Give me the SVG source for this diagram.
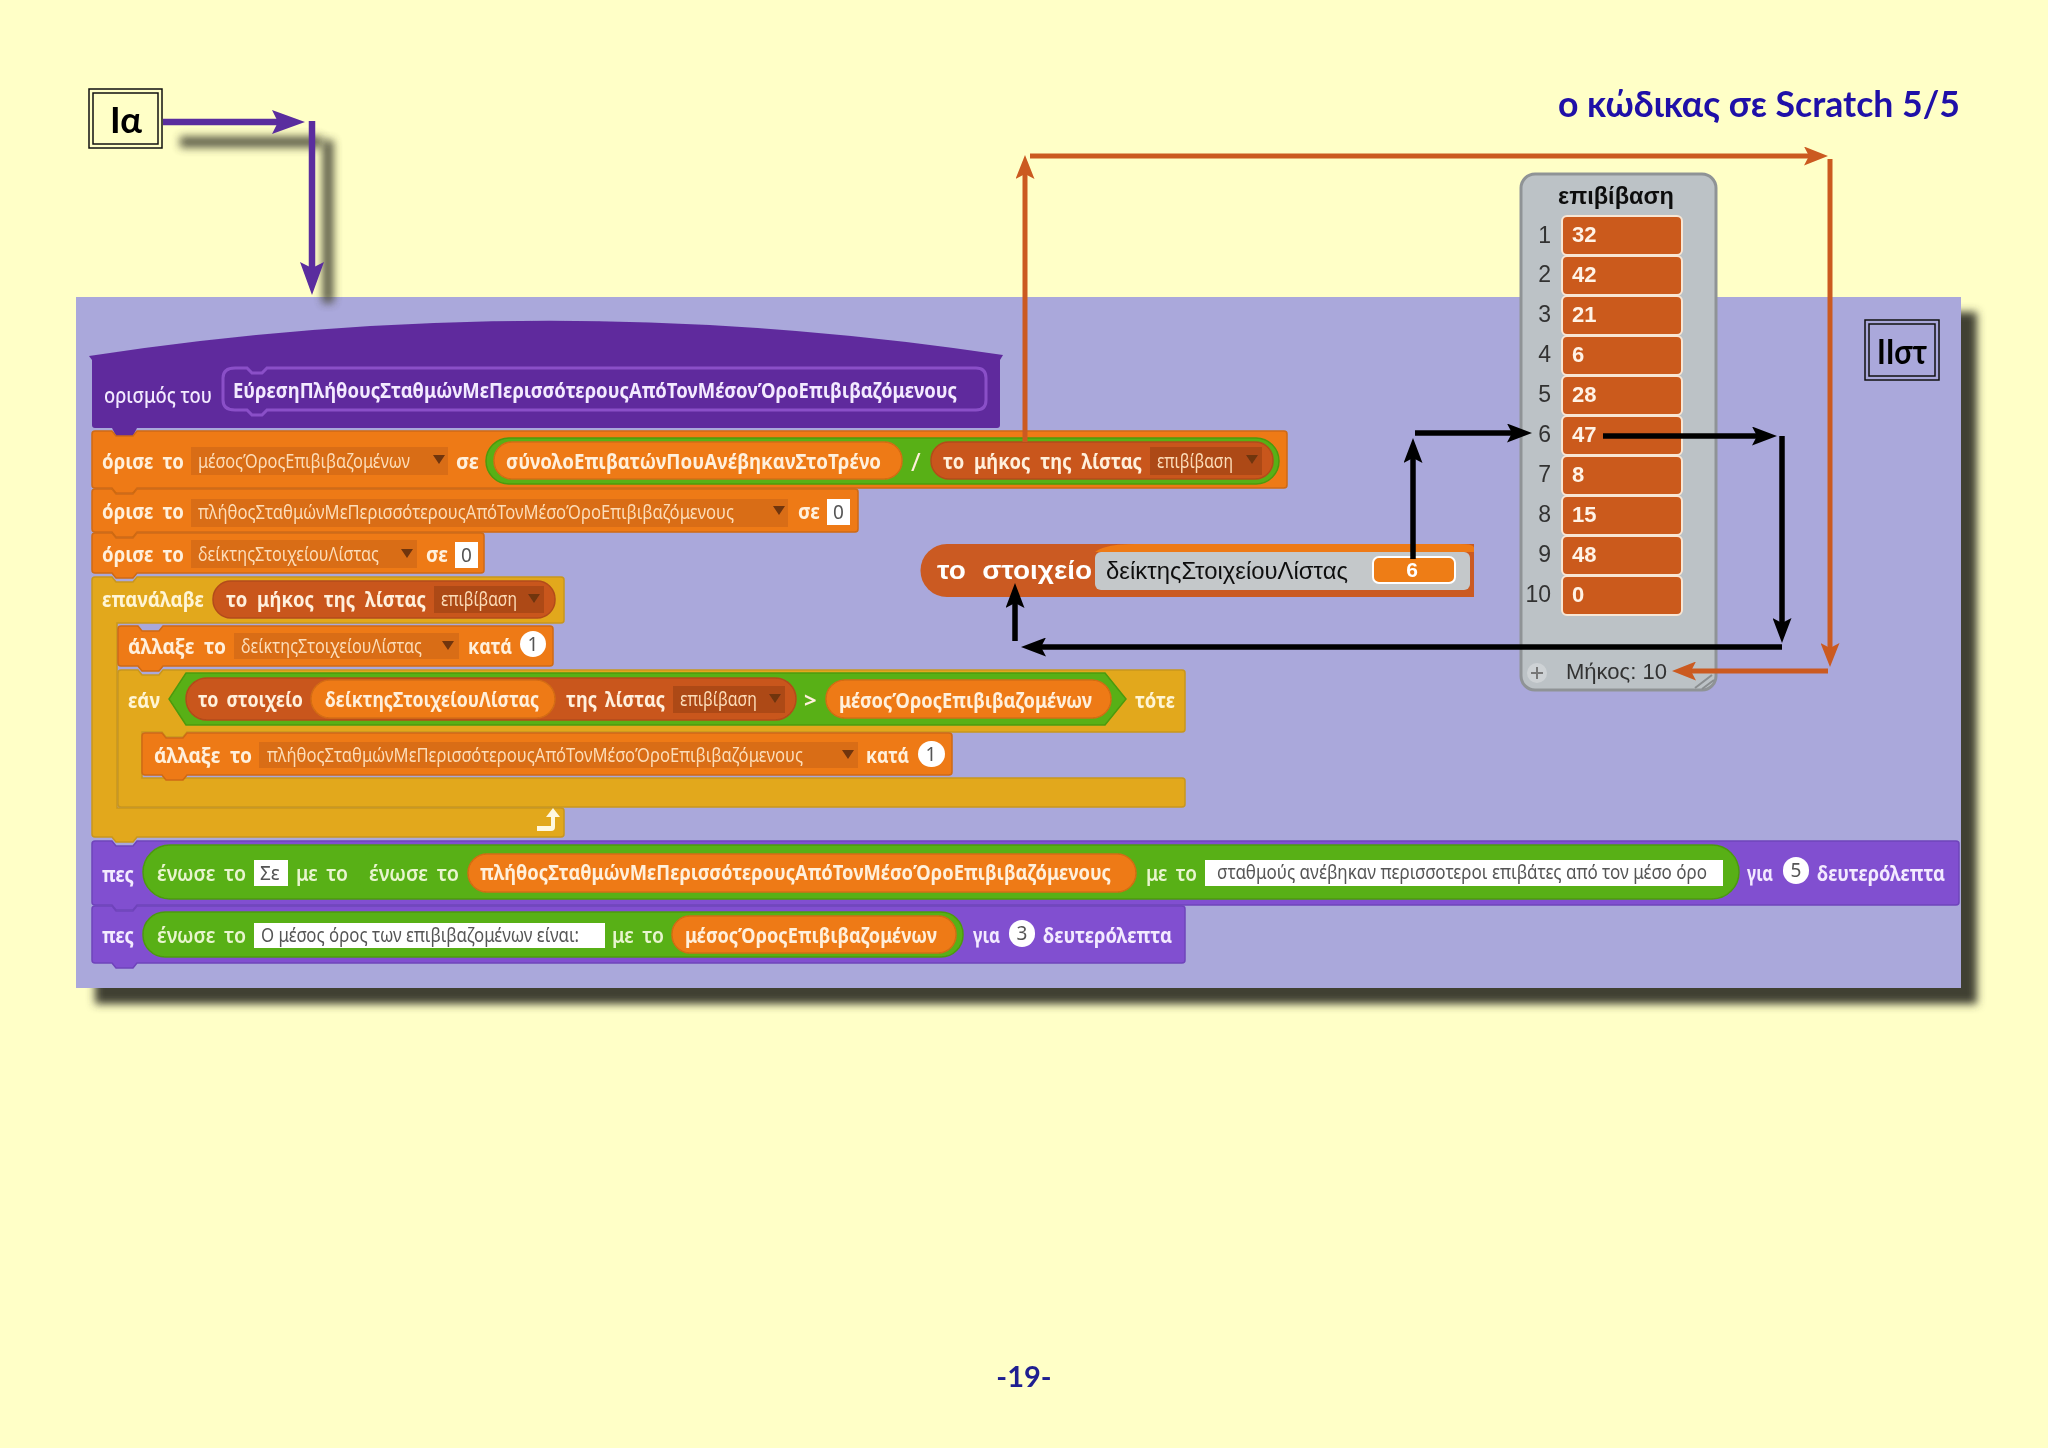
<svg xmlns="http://www.w3.org/2000/svg" width="2048" height="1448" viewBox="0 0 2048 1448">
<style>
text{font-family:"Noto Sans","Liberation Sans",sans-serif}
.t{font-size:22px;font-weight:700;fill:#fff0dc}
.g{font-size:22px;font-weight:600;fill:#e8f5cf}
.p{font-size:22px;font-weight:700;fill:#f3eaff}
.y{font-size:22px;font-weight:700;fill:#fff5d5}
.d{font-size:20px;font-weight:400;fill:#fcdcb8}
.w{font-size:19px;font-weight:400;fill:#555;}
.or{fill:#ee7a16;stroke:#cf6a12;stroke-width:1.5}
.ye{fill:#e2a81c;stroke:#c9961c;stroke-width:1.5}
.pu{fill:#8150d0;stroke:#6f43bb;stroke-width:1.5}
.gr{fill:#59b014;stroke:#4c9a10;stroke-width:1.5}
.dk{fill:#c9561f;stroke:#b34c1a;stroke-width:1.5}
.op{fill:#ee7a16;stroke:#d46c12;stroke-width:1.5}
.dd{fill:#d96d14}
.d2{fill:#ad4a18}
.wb{fill:#fff}
.idx{font-family:"Liberation Sans",sans-serif;font-size:23px;fill:#333;text-anchor:end}
.cell{fill:#cb5a1f;stroke:#f8e6d4;stroke-width:2}
.val{font-family:"Liberation Sans",sans-serif;font-size:22px;font-weight:700;fill:#fff3e6}
.box{fill:none;stroke:#111;stroke-width:1.5}
.lbl{font-family:Lato,"Noto Sans",sans-serif;font-size:36px;font-weight:700;fill:#000;text-anchor:middle}
.cb{stroke:#000;stroke-width:5.5;fill:none}
.co{stroke:#cb5a20;stroke-width:5;fill:none}
.cv{stroke:#5a2d9e;stroke-width:6.5;fill:none}
.sh{stroke:#4a4a38;stroke-width:11;fill:none;opacity:.9}
</style>
<defs>
<filter id="b6" filterUnits="userSpaceOnUse" x="40" y="260" width="2000" height="800"><feGaussianBlur stdDeviation="4"/></filter>
<filter id="b3" filterUnits="userSpaceOnUse" x="150" y="100" width="220" height="240"><feGaussianBlur stdDeviation="4"/></filter>
<filter id="soft" filterUnits="userSpaceOnUse" x="60" y="160" width="1920" height="840"><feGaussianBlur stdDeviation="0.6"/></filter>
<marker id="mp" markerUnits="userSpaceOnUse" viewBox="0 0 33 24" markerWidth="33" markerHeight="24" refX="22" refY="12" orient="auto"><path d="M0,0L33,12L0,24L6,12z" fill="#5a2d9e"/></marker>
<marker id="mo" markerUnits="userSpaceOnUse" viewBox="0 0 24 19" markerWidth="24" markerHeight="19" refX="16" refY="9.5" orient="auto"><path d="M0,0L24,9.5L0,19L5,9.5z" fill="#cb5a20"/></marker>
<marker id="mb" markerUnits="userSpaceOnUse" viewBox="0 0 25 19" markerWidth="25" markerHeight="19" refX="17" refY="9.5" orient="auto"><path d="M0,0L25,9.5L0,19L5,9.5z" fill="#000"/></marker>
<path id="tri" d="M-6,-4h12l-6,9z" fill="#6f3510"/>
</defs>
<rect width="2048" height="1448" fill="#ffffc7"/>
<rect x="95" y="312" width="1882" height="692" fill="#403f30" filter="url(#b6)"/>
<rect x="76" y="297" width="1885" height="691" fill="#aaa8db"/>

<g id="blocks" filter="url(#soft)">
<g id="node-hat">
<path d="M89,356Q546,286 1003,355L1000,360V425q0,3 -3,3H137l-4,8h-17l-4,-8H95q-3,0 -3,-3V360z" fill="#5f2a9d"/>
<path d="M235,368H247l5,5h10l5,-5H976q10,0 10,10V400q0,10 -10,10H267l-5,5h-10l-5,-5H235q-12,0 -12,-10V378q0,-10 12,-10z" fill="#5f2a9d" stroke="#8a50c8" stroke-width="3"/>
<text class="p" x="104" y="403" textLength="108" lengthAdjust="spacingAndGlyphs" style="font-weight:500">ορισμός του</text>
<text class="p" x="233" y="398" textLength="724" lengthAdjust="spacingAndGlyphs">ΕύρεσηΠλήθουςΣταθμώνΜεΠερισσότερουςΑπόΤονΜέσονΌροΕπιβιβαζόμενους</text>
</g>

<g id="node-set-mean">
<path class="or" d="M95,431H112l4,5h17l4,-5H1284q3,0 3,3V485q0,3 -3,3H137l-4,5h-17l-4,-5H95q-3,0 -3,-3V434q0,-3 3,-3z"/>
<text class="t" x="102" y="469" textLength="82" lengthAdjust="spacingAndGlyphs" style="word-spacing:5px">όρισε το</text>
<rect class="dd" x="191" y="447" width="257" height="28"/>
<text class="d" x="198" y="468" textLength="212" lengthAdjust="spacingAndGlyphs">μέσοςΌροςΕπιβιβαζομένων</text>
<use href="#tri" x="439" y="459"/>
<text class="t" x="456" y="469" textLength="23" lengthAdjust="spacingAndGlyphs">σε</text>
<rect class="gr" x="486" y="438" width="793" height="46" rx="23"/>
<rect class="op" x="494" y="442" width="408" height="37" rx="18"/>
<text class="t" x="506" y="469" textLength="375" lengthAdjust="spacingAndGlyphs">σύνολοΕπιβατώνΠουΑνέβηκανΣτοΤρένο</text>
<text class="t" x="911" y="471" style="font-size:26px;font-weight:400">/</text>
<rect class="dk" x="931" y="442" width="342" height="37" rx="18"/>
<text class="t" x="943" y="469" textLength="199" lengthAdjust="spacingAndGlyphs" style="word-spacing:6px">το μήκος της λίστας</text>
<rect class="d2" x="1150" y="447" width="112" height="28"/>
<text class="d" x="1157" y="468" textLength="76" lengthAdjust="spacingAndGlyphs">επιβίβαση</text>
<use href="#tri" x="1252" y="459"/>
</g>

<g id="node-set-count">
<path class="or" d="M95,489H112l4,5h17l4,-5H855q3,0 3,3V529q0,3 -3,3H137l-4,5h-17l-4,-5H95q-3,0 -3,-3V492q0,-3 3,-3z"/>
<text class="t" x="102" y="519" textLength="82" lengthAdjust="spacingAndGlyphs" style="word-spacing:5px">όρισε το</text>
<rect class="dd" x="191" y="499" width="597" height="28"/>
<text class="d" x="198" y="519" textLength="536" lengthAdjust="spacingAndGlyphs">πλήθοςΣταθμώνΜεΠερισσότερουςΑπόΤονΜέσοΌροΕπιβιβαζόμενους</text>
<use href="#tri" x="779" y="510"/>
<text class="t" x="798" y="519" textLength="22" lengthAdjust="spacingAndGlyphs">σε</text>
<rect class="wb" x="827" y="499" width="23" height="26"/>
<text class="w" x="833" y="519">0</text>
</g>

<g id="node-set-index">
<path class="or" d="M95,533H112l4,5h17l4,-5H481q3,0 3,3V570q0,3 -3,3H137l-4,5h-17l-4,-5H95q-3,0 -3,-3V536q0,-3 3,-3z"/>
<text class="t" x="102" y="562" textLength="82" lengthAdjust="spacingAndGlyphs" style="word-spacing:5px">όρισε το</text>
<rect class="dd" x="191" y="540" width="226" height="28"/>
<text class="d" x="198" y="561" textLength="181" lengthAdjust="spacingAndGlyphs">δείκτηςΣτοιχείουΛίστας</text>
<use href="#tri" x="407" y="553"/>
<text class="t" x="426" y="562" textLength="22" lengthAdjust="spacingAndGlyphs">σε</text>
<rect class="wb" x="455" y="542" width="23" height="26"/>
<text class="w" x="461" y="562">0</text>
</g>

<g id="node-repeat">
<path class="ye" d="M95,577H112l4,5h17l4,-5H561q3,0 3,3V620q0,3 -3,3H117V808H561q3,0 3,3V834q0,3 -3,3H137l-4,5h-17l-4,-5H95q-3,0 -3,-3V580q0,-3 3,-3z"/>
<text class="y" x="102" y="607" textLength="102" lengthAdjust="spacingAndGlyphs">επανάλαβε</text>
<rect class="dk" x="213" y="581" width="342" height="37" rx="18"/>
<text class="t" x="226" y="607" textLength="200" lengthAdjust="spacingAndGlyphs" style="word-spacing:6px">το μήκος της λίστας</text>
<rect class="d2" x="434" y="586" width="110" height="27"/>
<text class="d" x="441" y="606" textLength="76" lengthAdjust="spacingAndGlyphs">επιβίβαση</text>
<use href="#tri" x="534" y="598"/>
<path d="M537,831h14q4,0 4,-4v-10h5l-7,-9l-7,9h5v9h-14z" fill="#fff8e0"/>
</g>

<g id="node-change-index">
<path class="or" d="M121,626H138l4,5h17l4,-5H550q3,0 3,3V663q0,3 -3,3H163l-4,5h-17l-4,-5H121q-3,0 -3,-3V629q0,-3 3,-3z"/>
<text class="t" x="128" y="654" textLength="98" lengthAdjust="spacingAndGlyphs" style="word-spacing:5px">άλλαξε το</text>
<rect class="dd" x="234" y="633" width="225" height="26"/>
<text class="d" x="241" y="653" textLength="181" lengthAdjust="spacingAndGlyphs">δείκτηςΣτοιχείουΛίστας</text>
<use href="#tri" x="448" y="645"/>
<text class="t" x="468" y="654" textLength="44" lengthAdjust="spacingAndGlyphs">κατά</text>
<rect class="wb" x="520" y="631" width="26" height="26" rx="13"/>
<text class="w" x="533" y="651" text-anchor="middle">1</text>
</g>

<g id="node-if">
<path class="ye" d="M121,670H138l4,5h17l4,-5H1182q3,0 3,3V729q0,3 -3,3H187l-4,5h-17l-4,-5H142V778H1182q3,0 3,3V804q0,3 -3,3H121q-3,0 -3,-3V673q0,-3 3,-3z"/>
<text class="y" x="128" y="708" textLength="32" lengthAdjust="spacingAndGlyphs">εάν</text>
<path class="gr" d="M186,673H1105L1126,699L1105,725H186L169,699z"/>
<rect class="dk" x="186" y="678" width="610" height="42" rx="21"/>
<text class="t" x="198" y="707" textLength="105" lengthAdjust="spacingAndGlyphs" style="word-spacing:4px">το στοιχείο</text>
<rect class="op" x="311" y="680" width="244" height="38" rx="19"/>
<text class="t" x="325" y="707" textLength="214" lengthAdjust="spacingAndGlyphs">δείκτηςΣτοιχείουΛίστας</text>
<text class="t" x="566" y="707" textLength="99" lengthAdjust="spacingAndGlyphs" style="word-spacing:4px">της λίστας</text>
<rect class="d2" x="673" y="686" width="112" height="27"/>
<text class="d" x="680" y="706" textLength="77" lengthAdjust="spacingAndGlyphs">επιβίβαση</text>
<use href="#tri" x="775" y="698"/>
<text class="t" x="804" y="708">&gt;</text>
<rect class="op" x="826" y="680" width="285" height="38" rx="19"/>
<text class="t" x="839" y="708" textLength="253" lengthAdjust="spacingAndGlyphs">μέσοςΌροςΕπιβιβαζομένων</text>
<text class="y" x="1135" y="708" textLength="40" lengthAdjust="spacingAndGlyphs">τότε</text>
</g>

<g id="node-change-count">
<path class="or" d="M145,733H162l4,5h17l4,-5H949q3,0 3,3V772q0,3 -3,3H187l-4,5h-17l-4,-5H145q-3,0 -3,-3V736q0,-3 3,-3z"/>
<text class="t" x="154" y="763" textLength="98" lengthAdjust="spacingAndGlyphs" style="word-spacing:5px">άλλαξε το</text>
<rect class="dd" x="259" y="742" width="599" height="26"/>
<text class="d" x="267" y="762" textLength="536" lengthAdjust="spacingAndGlyphs">πλήθοςΣταθμώνΜεΠερισσότερουςΑπόΤονΜέσοΌροΕπιβιβαζόμενους</text>
<use href="#tri" x="848" y="754"/>
<text class="t" x="866" y="763" textLength="43" lengthAdjust="spacingAndGlyphs">κατά</text>
<rect class="wb" x="918" y="741" width="27" height="26" rx="13"/>
<text class="w" x="931" y="761" text-anchor="middle">1</text>
</g>

<g id="node-say-1">
<path class="pu" d="M95,841H112l4,5h17l4,-5H1956q3,0 3,3V902q0,3 -3,3H137l-4,5h-17l-4,-5H95q-3,0 -3,-3V844q0,-3 3,-3z"/>
<text class="p" x="102" y="882" textLength="32" lengthAdjust="spacingAndGlyphs">πες</text>
<rect class="gr" x="143" y="845" width="1596" height="54" rx="27"/>
<text class="g" x="157" y="881" textLength="89" lengthAdjust="spacingAndGlyphs" style="word-spacing:4px">ένωσε το</text>
<rect class="wb" x="254" y="860" width="34" height="26"/>
<text class="w" x="260" y="880">Σε</text>
<text class="g" x="296" y="881" textLength="52" lengthAdjust="spacingAndGlyphs" style="word-spacing:4px">με το</text>
<rect x="357" y="850" width="1370" height="46" rx="23" fill="#59b014"/>
<text class="g" x="369" y="881" textLength="90" lengthAdjust="spacingAndGlyphs" style="word-spacing:4px">ένωσε το</text>
<rect class="op" x="468" y="854" width="668" height="38" rx="19"/>
<text class="t" x="480" y="880" textLength="631" lengthAdjust="spacingAndGlyphs">πλήθοςΣταθμώνΜεΠερισσότερουςΑπόΤονΜέσοΌροΕπιβιβαζόμενους</text>
<text class="g" x="1146" y="881" textLength="51" lengthAdjust="spacingAndGlyphs" style="word-spacing:4px">με το</text>
<rect class="wb" x="1205" y="860" width="518" height="26"/>
<text class="w" x="1217" y="879" textLength="490" lengthAdjust="spacingAndGlyphs">σταθμούς ανέβηκαν περισσοτεροι επιβάτες από τον μέσο όρο</text>
<text class="p" x="1747" y="881" textLength="26" lengthAdjust="spacingAndGlyphs">για</text>
<rect class="wb" x="1783" y="857" width="26" height="27" rx="13"/>
<text class="w" x="1796" y="877" text-anchor="middle">5</text>
<text class="p" x="1817" y="881" textLength="128" lengthAdjust="spacingAndGlyphs">δευτερόλεπτα</text>
</g>

<g id="node-say-2">
<path class="pu" d="M95,906H112l4,5h17l4,-5H1182q3,0 3,3V960q0,3 -3,3H137l-4,5h-17l-4,-5H95q-3,0 -3,-3V909q0,-3 3,-3z"/>
<text class="p" x="102" y="943" textLength="32" lengthAdjust="spacingAndGlyphs">πες</text>
<rect class="gr" x="143" y="912" width="820" height="45" rx="22"/>
<text class="g" x="157" y="943" textLength="89" lengthAdjust="spacingAndGlyphs" style="word-spacing:4px">ένωσε το</text>
<rect class="wb" x="254" y="923" width="351" height="25"/>
<text class="w" x="261" y="942" textLength="318" lengthAdjust="spacingAndGlyphs">Ο μέσος όρος των επιβιβαζομένων είναι:</text>
<text class="g" x="612" y="943" textLength="52" lengthAdjust="spacingAndGlyphs" style="word-spacing:4px">με το</text>
<rect class="op" x="672" y="916" width="284" height="37" rx="18"/>
<text class="t" x="685" y="943" textLength="252" lengthAdjust="spacingAndGlyphs">μέσοςΌροςΕπιβιβαζομένων</text>
<text class="p" x="973" y="943" textLength="27" lengthAdjust="spacingAndGlyphs">για</text>
<rect class="wb" x="1009" y="920" width="26" height="27" rx="13"/>
<text class="w" x="1022" y="940" text-anchor="middle">3</text>
<text class="p" x="1043" y="943" textLength="129" lengthAdjust="spacingAndGlyphs">δευτερόλεπτα</text>
</g>

<g id="node-monitor">
<path d="M947,544H1474V597H947a26.500,26.500 0 0 1 0,-53z" fill="#cb5a20"/>
<path d="M1095,552q10,-8 40,-8H1460q14,0 14,4V552z" fill="#ee7a16"/>
<text x="937" y="579" textLength="155" lengthAdjust="spacingAndGlyphs" style="font-family:'Liberation Sans',sans-serif;font-size:26px;font-weight:700;fill:#fff;word-spacing:8px">το στοιχείο</text>
<rect x="1095" y="552" width="375" height="38" rx="6" fill="#c4c8ca"/>
<text x="1106" y="579" textLength="242" lengthAdjust="spacingAndGlyphs" style="font-family:'Liberation Sans',sans-serif;font-size:23px;fill:#111">δείκτηςΣτοιχείουΛίστας</text>
<rect x="1373" y="557" width="82" height="26" rx="6" fill="#ee7d14" stroke="#fff" stroke-width="2"/>
<text x="1412" y="577" text-anchor="middle" style="font-family:'Liberation Sans',sans-serif;font-size:21px;font-weight:700;fill:#fff">6</text>
</g>

<g id="node-list">
<rect x="1521" y="174" width="195" height="516" rx="14" fill="#bcc2c6" stroke="#8f9396" stroke-width="3"/>
<text x="1616" y="204" text-anchor="middle" textLength="116" lengthAdjust="spacingAndGlyphs" style="font-family:'Liberation Sans',sans-serif;font-size:23px;font-weight:700;fill:#111">επιβίβαση</text>
<rect class="cell" x="1562" y="216" width="120" height="39" rx="5"/><text class="idx" x="1551" y="243">1</text><text class="val" x="1572" y="242">32</text>
<rect class="cell" x="1562" y="256" width="120" height="39" rx="5"/><text class="idx" x="1551" y="282">2</text><text class="val" x="1572" y="282">42</text>
<rect class="cell" x="1562" y="296" width="120" height="39" rx="5"/><text class="idx" x="1551" y="322">3</text><text class="val" x="1572" y="322">21</text>
<rect class="cell" x="1562" y="336" width="120" height="39" rx="5"/><text class="idx" x="1551" y="362">4</text><text class="val" x="1572" y="362">6</text>
<rect class="cell" x="1562" y="376" width="120" height="39" rx="5"/><text class="idx" x="1551" y="402">5</text><text class="val" x="1572" y="402">28</text>
<rect class="cell" x="1562" y="416" width="120" height="39" rx="5"/><text class="idx" x="1551" y="442">6</text><text class="val" x="1572" y="442">47</text>
<rect class="cell" x="1562" y="456" width="120" height="39" rx="5"/><text class="idx" x="1551" y="482">7</text><text class="val" x="1572" y="482">8</text>
<rect class="cell" x="1562" y="496" width="120" height="39" rx="5"/><text class="idx" x="1551" y="522">8</text><text class="val" x="1572" y="522">15</text>
<rect class="cell" x="1562" y="536" width="120" height="39" rx="5"/><text class="idx" x="1551" y="562">9</text><text class="val" x="1572" y="562">48</text>
<rect class="cell" x="1562" y="576" width="120" height="39" rx="5"/><text class="idx" x="1551" y="602">10</text><text class="val" x="1572" y="602">0</text>
<circle cx="1537" cy="673" r="10" fill="#ced2d5"/>
<path d="M1531,673h12M1537,667v12" stroke="#777" stroke-width="2"/>
<text x="1566" y="679" textLength="101" lengthAdjust="spacingAndGlyphs" style="font-family:'Liberation Sans',sans-serif;font-size:22px;fill:#333">Μήκος: 10</text>
<path d="M1695,688L1712,675M1702,689L1714,680" stroke="#8a8e90" stroke-width="2" fill="none"/>
</g>
</g>

<g id="node-ia">
<rect x="89" y="89" width="73" height="59" fill="#ffffc7" stroke="#111" stroke-width="1.5"/>
<rect class="box" x="93" y="93" width="65" height="51"/>
<text class="lbl" x="126" y="133">Ια</text>
</g>
<g id="node-iist">
<rect class="box" x="1865" y="320" width="74" height="60"/>
<rect class="box" x="1869" y="324" width="66" height="52"/>
<text class="lbl" x="1902" y="364" textLength="50" lengthAdjust="spacingAndGlyphs" style="font-size:34px">ΙΙστ</text>
</g>

<g id="title"><text x="1960" y="117" text-anchor="end" textLength="402" lengthAdjust="spacingAndGlyphs" style="font-family:Lato,'Noto Sans',sans-serif;font-size:36px;font-weight:700;fill:#1f10a8">ο κώδικας σε Scratch 5/5</text></g>
<g id="page"><text x="1024" y="1387" text-anchor="middle" style="font-family:Lato,'Noto Sans',sans-serif;font-size:29px;font-weight:700;fill:#1f1f90">-19-</text></g>

<g id="connectors">
<path class="sh" d="M180,142H322" filter="url(#b3)"/>
<path class="sh" d="M328,140V303" filter="url(#b3)"/>
<path class="cv" d="M163,122H294" marker-end="url(#mp)"/>
<path class="cv" d="M312,121V284" marker-end="url(#mp)"/>
<path class="co" d="M1025,442V163" marker-end="url(#mo)"/>
<path class="co" d="M1030,156H1820" marker-end="url(#mo)"/>
<path class="co" d="M1830,159V659" marker-end="url(#mo)"/>
<path class="co" d="M1828,671H1680" marker-end="url(#mo)"/>
<path class="cb" d="M1413,559V446" marker-end="url(#mb)"/>
<path class="cb" d="M1415,433H1524" marker-end="url(#mb)"/>
<path class="cb" d="M1603,436H1769" marker-end="url(#mb)"/>
<path class="cb" d="M1782,436V635" marker-end="url(#mb)"/>
<path class="cb" d="M1782,647H1029" marker-end="url(#mb)"/>
<path class="cb" d="M1015,641V591" marker-end="url(#mb)"/>
</g>
</svg>
